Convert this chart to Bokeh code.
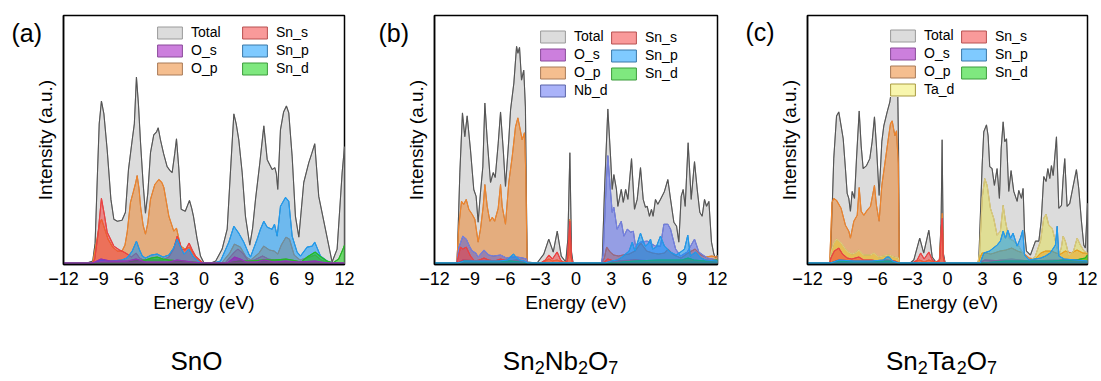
from bokeh.plotting import figure
from bokeh.layouts import row, column
from bokeh.models import Range1d, FixedTicker, Legend, LegendItem, Label
from bokeh.embed import file_html
from bokeh.resources import INLINE

FONT = "Liberation Sans"
TICKS = [-12, -9, -6, -3, 0, 3, 6, 9, 12]

# ---------------- SnO ----------------
SNO_TOTAL_E = [-12, -10.0, -9.5, -9.3, -9.1, -8.95, -8.76, -8.55, -8.27, -7.95, -7.7, -7.4, -7.0, -6.71, -6.45,
               -6.13, -5.95, -5.77, -5.6, -5.42, -5.2, -5.0, -4.8, -4.57, -4.29, -4.05, -3.91, -3.72, -3.45, -3.15,
               -2.9, -2.72, -2.5, -2.35, -2.15, -1.95, -1.6, -1.24, -1.05, -0.9, -0.6, -0.3, 0.0, 0.6, 1.0, 1.55,
               1.98, 2.3, 2.55, 2.75, 2.97, 3.26, 3.54, 3.91, 4.15, 4.40, 4.77, 5.11, 5.40, 5.82, 6.05, 6.18, 6.30,
               6.53, 6.8, 7.04, 7.24, 7.53, 7.81, 8.10, 8.52, 8.95, 9.2, 9.46, 9.80, 10.37, 10.94, 11.37, 11.80, 12.0]
SNO_TOTAL_V = [0, 0, 2, 20, 90, 140, 163, 150, 114, 64, 44, 42, 43, 51, 94,
               124, 140, 187, 160, 121, 80, 50, 70, 111, 129, 132, 136, 124, 110, 97,
               93, 91, 110, 125, 95, 54, 52, 63, 55, 47, 25, 7, 0, 0, 2, 14,
               34, 100, 150, 140, 124, 91, 47, 18, 35, 64, 101, 138, 104, 94, 96, 90, 74,
               134, 152, 158, 151, 107, 47, 26, 81, 101, 110, 120, 67, 34, 1, 14, 91, 117]
SNO_OP_E = [-12, -9.5, -9.2, -8.9, -8.75, -8.5, -8.2, -7.8, -7.4, -7.0, -6.75, -6.56, -6.28, -6.05, -5.85, -5.71,
            -5.55, -5.42, -5.2, -5.0, -4.8, -4.57, -4.20, -3.86, -3.6, -3.43, -3.0, -2.58, -2.35, -2.0, -1.6, -1.24,
            -0.9, -0.58, -0.2, 1.5, 2.2, 2.6, 3.1, 3.6, 4.0, 4.7, 5.1, 5.6, 6.0, 6.3, 6.6, 7.0, 7.3, 7.7, 8.2,
            9.0, 9.5, 10.0, 10.7, 12]
SNO_OP_V = [0, 0, 20, 40, 44, 35, 24, 16, 12, 12, 18, 31, 61, 71, 80, 88,
            75, 57, 38, 29, 40, 64, 79, 84, 81, 76, 47, 32, 35, 17, 14, 16,
            9, 4, 0, 0, 10, 19, 16, 6, 3, 10, 17, 13, 12, 9, 18, 26, 24, 8, 3,
            6, 8, 3, 0, 0]
SNO_SNS_E = [-12, -9.5, -9.33, -9.07, -8.76, -8.5, -8.27, -7.70, -7.2, -6.85, -6.56, -6.2, -5.8, -5.5, -5.2, -4.5,
             -3.5, -3.0, -2.6, -2.29, -2.1, -1.9, -1.6, -1.27, -1.0, -0.72, -0.1, 1.8, 2.3, 2.6, 2.9, 3.3, 3.8,
             4.3, 5.0, 5.5, 6.5, 7.5, 9.0, 10, 12]
SNO_SNS_V = [0, 0, 4, 27, 65, 48, 31, 17, 13, 11, 9, 6, 10, 5, 3, 3,
             3, 6, 14, 27, 22, 14, 13, 20, 13, 7, 0, 0, 7, 11, 14, 10, 2,
             3, 7, 4, 2, 1, 1, 0, 0]
SNO_SNP_E = [-12, -9.4, -8.8, -8.0, -7.0, -6.6, -6.45, -6.13, -5.77, -5.5, -5.27, -5.0, -4.5, -4.0, -3.5, -3.0,
             -2.6, -2.3, -2.0, -1.7, -1.3, -0.9, -0.3, 0.8, 1.41, 2.12, 2.55, 2.97, 3.40, 3.83, 3.97, 4.54, 4.82,
             5.11, 5.40, 5.82, 6.02, 6.25, 6.53, 6.96, 7.24, 7.53, 7.95, 8.24, 8.81, 9.24, 9.46, 9.95, 10.52, 11.0, 12]
SNO_SNP_V = [0, 0, 3, 2, 3, 5, 7, 12, 22, 13, 7, 5, 8, 9, 6, 8,
             15, 24, 16, 9, 14, 6, 0, 0, 2, 21, 37, 30, 21, 9, 6, 24, 34,
             42, 36, 34, 39, 27, 57, 66, 62, 27, 11, 7, 16, 17, 21, 7, 2, 0, 0]
SNO_SND_E = [-12, -7.0, -6.0, -5.0, -4.5, -4.0, -3.5, -3.0, -2.0, -1.0, 0, 2.0, 3.0, 4.0, 5.0, 6.0, 7.0, 7.5, 8.3,
             8.8, 9.5, 10.0, 10.5, 11.0, 11.5, 11.8, 12]
SNO_SND_V = [0, 0, 2, 3, 5, 6, 4, 3, 2, 1, 0, 0, 2, 2, 3, 3, 4, 3, 1,
             6, 11, 6, 2, 0, 4, 12, 18]
SNO_OS_E = [-12, -9.5, -8.8, -8.0, -6.5, -5.8, -5.0, -3.0, -2.3, -1.0, 0, 2.0, 2.6, 3.1, 3.6, 4.5, 5.1, 6.0, 7.0,
            8.0, 9.5, 10.5, 12]
SNO_OS_V = [0, 0, 4, 2, 2, 4, 1, 1, 3, 1, 0, 0, 6, 4, 1, 1, 3, 1, 2,
            1, 2, 0, 0]

# ---------------- Sn2Nb2O7 ----------------
NB_TOTAL_E = [-12, -10.2, -10.08, -9.85, -9.63, -9.43, -9.23, -8.95, -8.67, -8.47, -8.30, -8.10, -7.90, -7.73, -7.53,
              -7.25, -7.02, -6.85, -6.6, -6.40, -6.17, -5.98, -5.70, -5.55, -5.27, -5.04, -4.93, -4.79, -4.62, -4.43,
              -4.29, -4.2, -4.14, -3.3, -2.73, -2.31, -1.93, -1.59, -1.25, -0.87, -0.69, -0.52, -0.38, -0.25, 2.1,
              2.22, 2.42, 2.70, 2.93, 3.07, 3.21, 3.43, 3.55, 3.84, 4.01, 4.21, 4.40, 4.71, 4.96, 5.19, 5.47, 5.70,
              5.89, 6.04, 6.23, 6.40, 6.54, 6.74, 6.94, 7.16, 7.5, 7.79, 8.02, 8.30, 8.53, 8.72, 8.92, 9.09, 9.26,
              9.51, 9.77, 10.05, 10.28, 10.50, 10.70, 10.90, 11.07, 11.27, 11.49, 11.69, 11.83, 12]
NB_TOTAL_V = [0, 0, 1, 91, 151, 127, 148, 114, 74, 67, 41, 71, 97, 161, 124,
              81, 91, 86, 120, 152, 114, 77, 124, 154, 181, 218, 211, 217, 184, 194,
              157, 60, 1, 0, 9, 24, 11, 32, 7, 1, 24, 111, 11, 0, 0,
              1, 74, 155, 107, 74, 89, 74, 57, 74, 61, 74, 64, 105, 54, 64, 96, 64,
              56, 57, 47, 54, 47, 64, 59, 64, 72, 84, 64, 41, 37, 21, 67, 74, 57,
              121, 64, 102, 74, 51, 47, 64, 57, 62, 21, 9, 5, 8]
NB_OP_E = [-12, -10.1, -10.02, -9.94, -9.71, -9.52, -9.31, -9.09, -8.81, -8.58, -8.30, -8.10, -7.87, -7.73, -7.53,
           -7.30, -7.10, -6.90, -6.6, -6.40, -6.26, -5.98, -5.70, -5.41, -5.13, -4.93, -4.76, -4.57, -4.37, -4.26,
           -4.2, -4.14, -3.0, -2.6, -2.3, -2.0, -1.6, -1.2, -0.8, -0.6, -0.52, -0.42, -0.3, 2.2, 2.4, 2.6, 2.9,
           3.2, 3.6, 4.0, 4.5, 5.0, 5.5, 6.0, 6.5, 7.0, 7.5, 7.8, 8.3, 8.9, 9.5, 10.1, 10.6, 11.0, 11.5, 12]
NB_OP_V = [0, 0, 20, 37, 62, 59, 64, 54, 49, 44, 21, 34, 57, 79, 57,
           42, 46, 42, 55, 79, 57, 39, 81, 107, 137, 146, 136, 124, 131, 91,
           40, 0, 0, 2, 4, 2, 3, 1, 1, 8, 44, 6, 0, 0, 5, 16, 11,
           8, 7, 8, 9, 12, 20, 12, 10, 9, 10, 14, 8, 5, 10, 14, 8, 6, 7, 6]
NB_NBD_E = [-12, -10.1, -9.95, -9.6, -9.3, -9.0, -8.8, -8.5, -8.3, -7.8, -7.4, -7.0, -6.4, -5.9, -5.5, -5.0, -4.5,
            -4.2, -4.14, 2.15, 2.3, 2.42, 2.58, 2.70, 2.87, 3.07, 3.21, 3.49, 3.84, 4.06, 4.35, 4.63, 4.86, 5.05,
            5.47, 6.04, 6.74, 7.16, 7.45, 7.79, 8.02, 8.45, 8.87, 9.43, 10.05, 10.42, 11.13, 12]
NB_NBD_V = [0, 0, 15, 27, 24, 16, 12, 10, 6, 13, 8, 7, 8, 5, 6, 6, 5,
            4, 0, 0, 8, 40, 85, 108, 81, 51, 56, 34, 42, 27, 34, 31, 32, 17,
            21, 22, 17, 17, 39, 39, 34, 14, 7, 11, 24, 11, 5, 3]
NB_SNS_E = [-12, -10.1, -9.95, -9.79, -9.6, -9.31, -8.95, -8.6, -8.2, -7.8, -7.4, -6.9, -6.4, -5.8, -5.0, -4.2,
            -3.0, -2.6, -2.3, -2.0, -1.6, -1.3, -1.0, -0.75, -0.52, -0.38, -0.25, 2.3, 2.7, 3.2, 4.0, 5.0, 6.0,
            7.0, 8.0, 9.5, 10.5, 12]
NB_SNS_V = [0, 0, 8, 16, 14, 16, 7, 2, 3, 5, 3, 2, 4, 2, 3, 0,
            0, 3, 8, 4, 11, 3, 0, 2, 42, 5, 0, 0, 4, 2, 2, 3, 2,
            2, 2, 3, 2, 1]
NB_SNP_E = [-12, -10.0, -9.5, -8.5, -7.5, -6.5, -5.8, -5.5, -5.3, -5.1, -4.8, -4.4, -4.1, 2.5, 3.0, 3.5, 3.8, 4.3,
            4.5, 4.77, 5.0, 5.2, 5.47, 5.7, 5.89, 6.1, 6.32, 6.5, 6.8, 7.16, 7.5, 8.0, 8.5, 8.87, 9.2, 9.48, 9.7,
            10.13, 10.6, 11.0, 12]
NB_SNP_V = [0, 0, 2, 2, 2, 2, 3, 7, 9, 6, 3, 2, 0, 0, 2, 3, 5, 10,
            12, 21, 12, 20, 30, 22, 17, 19, 24, 14, 16, 27, 17, 11, 8, 11, 14, 28, 7,
            11, 5, 3, 2]
NB_SND_E = [-12, -10.0, -9.5, -8.0, -5.5, -4.2, 3.0, 5.0, 7.0, 9.0, 9.5, 10.0, 11.0, 12]
NB_SND_V = [0, 0, 2, 1, 2, 0, 0, 2, 3, 3, 5, 3, 2, 3]
NB_OS_E = [-12, -10.0, -9.6, -8.0, -6.4, -5.0, -4.2, 2.5, 3.0, 5.0, 7.0, 9.5, 12]
NB_OS_V = [0, 0, 3, 2, 2, 2, 0, 0, 2, 3, 2, 2, 0]

# ---------------- Sn2Ta2O7 ----------------
TA_TOTAL_E = [-12, -10.15, -10.03, -9.75, -9.51, -9.32, -9.12, -8.94, -8.75, -8.60, -8.46, -8.32, -8.17, -7.97, -7.80,
              -7.57, -7.40, -7.23, -6.94, -6.66, -6.46, -6.26, -6.09, -5.86, -5.63, -5.46, -5.17, -4.94, -4.74, -4.5,
              -4.3, -4.2, -4.13, -3.2, -2.89, -2.38, -2.04, -1.60, -1.31, -1.0, -0.7, -0.55, -0.46, -0.36, -0.2,
              2.6, 2.68, 2.97, 3.11, 3.34, 3.48, 3.62, 3.82, 4.02, 4.25, 4.45, 4.60, 4.77, 4.91, 5.06, 5.25, 5.45,
              5.68, 5.97, 6.11, 6.34, 6.48, 6.60, 6.77, 7.11, 7.54, 7.83, 8.03, 8.25, 8.45, 8.60, 8.77, 8.91, 9.06,
              9.34, 9.54, 9.77, 9.91, 10.05, 10.25, 10.48, 10.68, 11.05, 11.25, 11.48, 11.68, 11.82, 11.92, 12]
TA_TOTAL_V = [0, 0, 3, 105, 148, 152, 138, 125, 95, 70, 65, 52, 72, 65, 105,
              153, 118, 95, 98, 105, 122, 147, 118, 68, 122, 138, 152, 162, 180, 195,
              200, 120, 0, 0, 3, 25, 10, 33, 6, 1, 2, 40, 124, 10, 0,
              0, 2, 98, 132, 139, 128, 97, 95, 78, 95, 65, 115, 142, 122, 125, 72, 93,
              72, 62, 73, 65, 75, 32, 12, 8, 22, 22, 42, 87, 82, 95, 85, 98, 88,
              127, 55, 58, 85, 105, 57, 60, 72, 94, 75, 42, 18, 15, 40, 60]
TA_OP_E = [-12, -10.1, -10.0, -9.9, -9.75, -9.51, -9.12, -8.75, -8.46, -8.32, -8.03, -7.74, -7.57, -7.40, -7.17,
           -6.89, -6.60, -6.26, -6.09, -5.86, -5.63, -5.31, -5.11, -4.89, -4.74, -4.51, -4.37, -4.22, -4.13, -3.0,
           -2.4, -2.0, -1.6, -1.2, -0.7, -0.55, -0.45, -0.35, -0.2, 2.6, 2.8, 2.97, 3.3, 3.7, 4.0, 4.5, 5.0, 5.5,
           6.0, 6.5, 7.0, 7.5, 8.0, 8.4, 8.9, 9.3, 9.7, 10.1, 10.6, 11.1, 11.6, 12]
TA_OP_V = [0, 0, 30, 61, 65, 63, 55, 38, 32, 25, 42, 48, 76, 52, 48,
           53, 57, 78, 58, 42, 78, 105, 122, 140, 143, 128, 133, 100, 0, 0,
           3, 1, 3, 1, 2, 30, 50, 5, 0, 0, 6, 10, 10, 9, 10, 12, 13, 15,
           12, 10, 5, 4, 10, 12, 12, 10, 9, 12, 10, 13, 10, 10]
TA_TAD_E = [-12, -10.1, -9.95, -9.75, -9.5, -9.1, -8.75, -8.5, -8.2, -7.9, -7.6, -7.2, -6.6, -6.3, -5.9, -5.5, -5.0,
            -4.6, -4.2, -4.13, 2.6, 2.75, 2.97, 3.19, 3.40, 3.68, 3.96, 4.25, 4.53, 4.77, 4.97, 5.25, 5.68, 6.11,
            6.54, 7.0, 7.5, 7.97, 8.25, 8.45, 8.68, 8.97, 9.25, 9.54, 9.75, 9.91, 10.1, 10.4, 10.8, 11.11, 11.39,
            11.7, 12]
TA_TAD_V = [0, 0, 12, 20, 24, 20, 14, 11, 9, 10, 13, 8, 8, 10, 6, 7, 8,
            6, 5, 0, 0, 10, 65, 85, 78, 55, 45, 28, 32, 58, 42, 25, 22, 17,
            8, 2, 6, 22, 45, 49, 38, 35, 22, 8, 15, 27, 22, 8, 12, 25, 18,
            12, 10]
TA_SNS_E = [-12, -10.1, -10.0, -9.7, -9.32, -9.0, -8.6, -8.2, -7.6, -7.2, -6.5, -6.0, -5.2, -4.5, -4.13, -3.0, -2.6,
            -2.3, -2.0, -1.6, -1.3, -1.0, -0.65, -0.5, -0.45, -0.38, -0.25, 2.7, 3.2, 5.0, 7.0, 9.0, 11.0, 12]
TA_SNS_V = [0, 0, 5, 12, 15, 9, 5, 4, 6, 3, 3, 2, 3, 2, 0, 0, 3,
            10, 4, 11, 3, 0, 4, 42, 45, 8, 0, 0, 3, 2, 2, 2, 2, 1]
TA_SNP_E = [-12, -10.0, -9.3, -8.0, -6.5, -5.5, -5.2, -5.0, -4.7, -4.2, 2.8, 3.11, 3.6, 4.25, 4.53, 4.77, 4.97,
            5.17, 5.4, 5.62, 5.97, 6.25, 6.45, 6.6, 7.0, 8.0, 8.4, 8.8, 9.25, 9.4, 9.55, 10.0, 11.0, 12]
TA_SNP_V = [0, 0, 3, 2, 2, 3, 6, 6, 2, 0, 0, 10, 12, 18, 22, 32, 25,
            33, 25, 30, 17, 25, 33, 8, 3, 5, 7, 10, 18, 37, 7, 4, 3, 2]
TA_SND_E = [-12, -10.0, -9.5, -8.0, -5.0, -4.2, 3.0, 5.0, 6.5, 9.0, 10.0, 11.0, 11.8, 12]
TA_SND_V = [0, 0, 2, 1, 2, 0, 0, 2, 2, 2, 3, 3, 5, 8]
TA_OS_E = [-12, -10.0, -9.4, -7.0, -5.0, -4.2, 3.0, 4.5, 5.5, 7.0, 9.0, 11.0, 12]
TA_OS_V = [0, 0, 3, 2, 2, 0, 0, 3, 4, 2, 3, 3, 0]

# compound names: (text, is_subscript) pieces
SNO_NAME = [("SnO", False)]
NB_NAME = [("Sn", False), ("2", True), ("Nb", False), ("2", True), ("O", False), ("7", True)]
TA_NAME = [("Sn", False), ("2", True), ("Ta", False), ("2", True), ("O", False), ("7", True)]

# fill colour, fill opacity, legend-box edge and curve colour per projection
STYLE = {
    "Total": ("#b9b9b9", 0.5, "#9a9a9a", "#555555"),
    "O_s":   ("#9900bb", 0.5, "#8a4a9a", "#9230b8"),
    "O_p":   ("#eb7d1f", 0.5, "#a87a58", "#f0842a"),
    "Sn_s":  ("#f33535", 0.5, "#b85050", "#f04040"),
    "Sn_p":  ("#0095ff", 0.5, "#3a78a8", "#1f9cf0"),
    "Sn_d":  ("#00d100", 0.5, "#3c9c3c", "#22bb22"),
    "Nb_d":  ("#2a40f0", 0.4, "#5a64a8", "#7480e0"),
    "Ta_d":  ("#e8e400", 0.32, "#a89a40", "#dccb80"),
}

PANEL_H = 330       # height of each DOS panel; the compound names sit in a strip below
STRIP_H = 381 - PANEL_H
Y0, Y1 = -1.5, 249.0


def text_width(s, size):
    adv = {"S": .667, "n": .556, "O": .778, "N": .722, "b": .556, "T": .56, "a": .556}
    return sum(adv.get(c, .556) for c in s) * size


def make_panel(series, draw_order, col1, col2, letter, borders, leg1, leg2, opaque_legend):
    left, right, bottom = borders
    frame_w = 367 - left - right
    p = figure(width=367, height=PANEL_H, output_backend="svg", toolbar_location=None,
               x_range=Range1d(-12, 12), y_range=Range1d(Y0, Y1),
               min_border_left=left, min_border_right=right, min_border_top=15, min_border_bottom=bottom,
               background_fill_color="white", border_fill_color="white")
    p.grid.visible = False
    p.outline_line_color = "black"
    p.outline_line_width = 1.5
    p.outline_line_alpha = 1.0

    xa = p.xaxis[0]
    xa.ticker = FixedTicker(ticks=TICKS)
    xa.major_tick_out = 0
    xa.major_tick_in = 0
    xa.minor_tick_out = 0
    xa.minor_tick_in = 0
    xa.axis_line_width = 1.5
    xa.major_label_standoff = 7
    xa.major_label_text_font = FONT
    xa.major_label_text_font_size = "18px"
    xa.major_label_text_color = "black"
    xa.axis_label = "Energy (eV)"
    xa.axis_label_standoff = 4
    xa.axis_label_text_font = FONT
    xa.axis_label_text_font_size = "19px"
    xa.axis_label_text_font_style = "normal"
    xa.axis_label_text_color = "black"

    ya = p.yaxis[0]
    ya.ticker = FixedTicker(ticks=[])
    ya.major_tick_out = 0
    ya.minor_tick_out = 0
    ya.axis_line_width = 1.5
    ya.axis_label = "Intensity (a.u.)"
    ya.axis_label_standoff = 8
    ya.axis_label_text_font = FONT
    ya.axis_label_text_font_size = "19px"
    ya.axis_label_text_font_style = "normal"
    ya.axis_label_text_color = "black"

    rend = {}
    for name in draw_order:
        e, v = series[name]
        fill, alpha, edge, line = STYLE[name]
        xs = list(e) + [e[-1]]
        ys = list(v) + [0]
        rend[name] = p.patch(xs, ys, fill_color=fill, fill_alpha=alpha, line_color=edge, line_width=1)
        p.line(e, v, line_color=line, line_width=1.1)

    for names, loc in ((col1, leg1), (col2, leg2)):
        leg = Legend(items=[LegendItem(label=n, renderers=[rend[n]]) for n in names],
                     location=loc, orientation="vertical", glyph_width=31, glyph_height=15,
                     label_height=15, label_standoff=6, spacing=2, padding=0, margin=0,
                     label_text_font=FONT, label_text_font_size="14px", label_text_color="black",
                     border_line_alpha=0, background_fill_color="white",
                     background_fill_alpha=1.0 if opaque_legend else 0.0)
        p.add_layout(leg)

    # panel letter, in the left margin next to the top of the frame
    frame_h = PANEL_H - bottom - 15
    lx = -12 + (11 - left) * 24.0 / frame_w
    ly = Y0 + (frame_h - 17) * (Y1 - Y0) / frame_h
    p.add_layout(Label(x=lx, y=ly, text=letter, text_font=FONT, text_font_size="25px",
                       text_baseline="middle", text_align="left", text_color="black"), "left")
    return p


def make_names_strip(names):
    s = figure(width=1101, height=STRIP_H, output_backend="svg", toolbar_location=None,
               x_range=Range1d(0, 1101), y_range=Range1d(0, STRIP_H),
               min_border_left=0, min_border_right=0, min_border_top=0, min_border_bottom=0,
               background_fill_color="white", border_fill_color="white")
    s.xaxis.visible = False
    s.yaxis.visible = False
    s.grid.visible = False
    s.outline_line_color = None
    big, small = 26, 18
    for parts, cx in names:
        total = sum(text_width(t, small if sub else big) for t, sub in parts)
        x = cx - total / 2
        for t, sub in parts:
            size = small if sub else big
            s.add_layout(Label(x=x, y=STRIP_H - 30 - (7 if sub else 0), text=t, text_font=FONT,
                               text_font_size=f"{size}px", text_baseline="middle", text_align="left",
                               text_color="black"))
            x += text_width(t, size)
    return s


pa = make_panel(
    {"Total": (SNO_TOTAL_E, SNO_TOTAL_V), "O_s": (SNO_OS_E, SNO_OS_V), "O_p": (SNO_OP_E, SNO_OP_V),
     "Sn_s": (SNO_SNS_E, SNO_SNS_V), "Sn_p": (SNO_SNP_E, SNO_SNP_V), "Sn_d": (SNO_SND_E, SNO_SND_V)},
    ["Total", "O_p", "Sn_s", "Sn_p", "Sn_d", "O_s"],
    ["Total", "O_s", "O_p"], ["Sn_s", "Sn_p", "Sn_d"], "(a)",
    (63, 23, PANEL_H - 264), (91, 188), (176, 188), False)

pb = make_panel(
    {"Total": (NB_TOTAL_E, NB_TOTAL_V), "O_s": (NB_OS_E, NB_OS_V), "O_p": (NB_OP_E, NB_OP_V),
     "Nb_d": (NB_NBD_E, NB_NBD_V), "Sn_s": (NB_SNS_E, NB_SNS_V), "Sn_p": (NB_SNP_E, NB_SNP_V),
     "Sn_d": (NB_SND_E, NB_SND_V)},
    ["Total", "O_s", "O_p", "Nb_d", "Sn_s", "Sn_d", "Sn_p"],
    ["Total", "O_s", "O_p", "Nb_d"], ["Sn_s", "Sn_p", "Sn_d"], "(b)",
    (67, 17, PANEL_H - 264), (103, 166), (174, 183), False)

pc = make_panel(
    {"Total": (TA_TOTAL_E, TA_TOTAL_V), "O_s": (TA_OS_E, TA_OS_V), "O_p": (TA_OP_E, TA_OP_V),
     "Ta_d": (TA_TAD_E, TA_TAD_V), "Sn_s": (TA_SNS_E, TA_SNS_V), "Sn_p": (TA_SNP_E, TA_SNP_V),
     "Sn_d": (TA_SND_E, TA_SND_V)},
    ["Total", "O_s", "O_p", "Ta_d", "Sn_s", "Sn_d", "Sn_p"],
    ["Total", "O_s", "O_p", "Ta_d"], ["Sn_s", "Sn_p", "Sn_d"], "(c)",
    (73, 14, PANEL_H - 265), (80, 167), (151, 184), True)

strip = make_names_strip([(SNO_NAME, 196), (NB_NAME, 560), (TA_NAME, 941)])

layout = column(row(pa, pb, pc, spacing=0), strip, spacing=0)
open("out.html", "w").write(file_html(layout, INLINE))
